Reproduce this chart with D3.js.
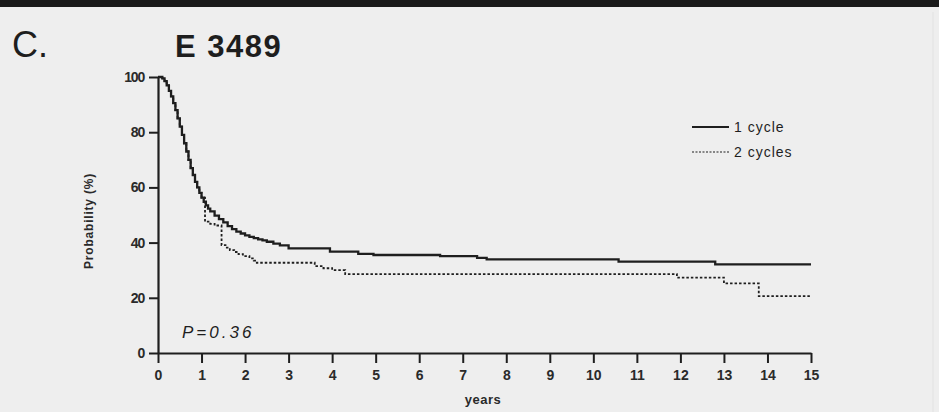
<!DOCTYPE html>
<html>
<head>
<meta charset="utf-8">
<script src="https://cdn.jsdelivr.net/npm/d3@7/dist/d3.min.js"></script>
<style>
  html, body { margin: 0; padding: 0; background: #eeeeee; }
  svg { display: block; font-family: "Liberation Sans", Arial, sans-serif; }
</style>
</head>
<body>
<div id="chart"></div>
<script>
// Kaplan-Meier estimates (years, probability %)
const yearsOne = [0, 0.1, 0.15, 0.2, 0.25, 0.3, 0.35, 0.4, 0.45, 0.5, 0.55, 0.6, 0.65, 0.7, 0.75, 0.8, 0.85, 0.9, 0.95, 1.0, 1.05, 1.1, 1.15, 1.2, 1.3, 1.4, 1.5, 1.6, 1.7, 1.8, 1.9, 2.0, 2.1, 2.2, 2.3, 2.4, 2.5, 2.65, 2.8, 3.0, 3.95, 4.6, 4.95, 6.48, 7.33, 7.55, 10.58, 12.8, 15];
const survOne  = [100, 99.5, 98.5, 97, 95, 93, 90.5, 88, 85, 82, 79, 76, 73, 70, 67, 64.5, 62, 60, 58, 56.3, 54.8, 53.5, 52.3, 51.3, 49.8, 48.5, 47.3, 46, 44.9, 44, 43.3, 42.6, 42.1, 41.6, 41.2, 40.8, 40.3, 39.6, 39, 37.9, 36.7, 35.9, 35.5, 35.1, 34.5, 33.9, 33.1, 32.1, 32.1];

const yearsTwo = [0, 0.1, 0.15, 0.2, 0.25, 0.3, 0.35, 0.4, 0.45, 0.5, 0.55, 0.6, 0.65, 0.7, 0.75, 0.8, 0.85, 0.9, 0.95, 1.0, 1.08, 1.2, 1.3, 1.46, 1.55, 1.65, 1.75, 1.85, 1.95, 2.1, 2.2, 2.27, 3.42, 3.6, 3.8, 4.0, 4.3, 11.92, 13.0, 13.8, 15];
const survTwo  = [100, 99.5, 98.5, 97, 95, 93, 90.5, 88, 85, 82, 79, 76, 73, 70, 67, 64.5, 62, 60, 58, 56.3, 47.6, 46.8, 46.2, 39.1, 38.2, 37.3, 36.6, 35.8, 35.1, 34.3, 33.5, 32.7, 32.7, 31.5, 30.7, 30, 28.6, 27.3, 25.2, 20.6, 20.6];

const seriesNames = ["1 cycle", "2 cycles"];
const yTicks = [0, 20, 40, 60, 80, 100];
const xTicks = d3.range(0, 16);
const pValue = "P=0.36";

const W = 939, H = 412;
const ink = "#1e1e1e";

const svg = d3.select("#chart").append("svg")
    .attr("width", W)
    .attr("height", H);

svg.append("rect").attr("width", W).attr("height", H).attr("fill", "#eeeeee");
// heavy rule across the top of the panel
svg.append("rect").attr("x", 0).attr("y", 0).attr("width", W).attr("height", 7).attr("fill", "#1a1a1a");
svg.append("line").attr("x1", 933).attr("x2", 933).attr("y1", 12).attr("y2", H)
    .attr("stroke", "#e2e2e2").attr("stroke-width", 1);

const x = d3.scaleLinear().domain([0, 15]).range([158, 811]);
const y = d3.scaleLinear().domain([0, 100]).range([353, 77]);

// panel letter and trial name
svg.append("text").attr("x", 12).attr("y", 57)
    .attr("font-size", 36).attr("fill", ink).text("C.");
svg.append("text").attr("x", 175).attr("y", 57)
    .attr("font-size", 31).attr("font-weight", "bold").attr("letter-spacing", 1.5)
    .attr("fill", ink).text("E 3489");

// axes
const yAxis = svg.append("g")
    .attr("transform", `translate(${x(0)},0)`)
    .call(d3.axisLeft(y).tickValues(yTicks).tickSize(9).tickSizeOuter(0).tickPadding(5));
const xAxis = svg.append("g")
    .attr("transform", `translate(0,${y(0)})`)
    .call(d3.axisBottom(x).tickValues(xTicks).tickSize(10).tickSizeOuter(0).tickPadding(7));

[yAxis, xAxis].forEach(g => {
    g.select(".domain").attr("stroke", ink).attr("stroke-width", 2.2);
    g.selectAll(".tick line").attr("stroke", ink).attr("stroke-width", 2);
    g.selectAll(".tick text")
        .attr("fill", "#2a2a2a")
        .attr("font-family", '"Liberation Sans", Arial, sans-serif')
        .attr("font-weight", "bold")
        .attr("font-size", 14);
});
yAxis.selectAll(".tick text").attr("font-size", 14).attr("letter-spacing", -1.2);

// axis titles
svg.append("text")
    .attr("transform", `translate(93,${(y(0) + y(100)) / 2 + 6}) rotate(-90)`)
    .attr("text-anchor", "middle")
    .attr("font-size", 12)
    .attr("font-weight", "bold")
    .attr("font-family", '"Liberation Sans Narrow", "Liberation Sans", sans-serif')
    .attr("letter-spacing", 0.8)
    .attr("fill", "#2a2a2a")
    .text("Probability (%)");
svg.append("text")
    .attr("x", 483).attr("y", 404)
    .attr("text-anchor", "middle")
    .attr("font-size", 13)
    .attr("font-weight", "bold")
    .attr("letter-spacing", 0.5)
    .attr("fill", "#2a2a2a")
    .text("years");

// survival curves
const line = d3.line()
    .x(d => x(d[0]))
    .y(d => y(d[1]))
    .curve(d3.curveStepAfter);

svg.append("path")
    .datum(d3.zip(yearsTwo, survTwo))
    .attr("d", line)
    .attr("fill", "none")
    .attr("stroke", ink)
    .attr("stroke-width", 1.8)
    .attr("stroke-dasharray", "2.5,2");

svg.append("path")
    .datum(d3.zip(yearsOne, survOne))
    .attr("d", line)
    .attr("fill", "none")
    .attr("stroke", ink)
    .attr("stroke-width", 2.3);

// legend
const legend = svg.append("g").attr("transform", "translate(692,127)");
seriesNames.forEach((name, i) => {
    const row = legend.append("g").attr("transform", `translate(0,${i * 25})`);
    row.append("line")
        .attr("x1", 0).attr("x2", 37)
        .attr("stroke", ink)
        .attr("stroke-width", i === 0 ? 2 : 1.2)
        .attr("stroke-dasharray", i === 0 ? null : "2,1.5");
    row.append("text")
        .attr("x", 42).attr("y", 5)
        .attr("font-size", 14)
        .attr("letter-spacing", 1)
        .attr("fill", ink)
        .text(name);
});

// log-rank p value
svg.append("text")
    .attr("x", 182).attr("y", 338)
    .attr("font-size", 17)
    .attr("font-style", "italic")
    .attr("letter-spacing", 3)
    .attr("fill", ink)
    .text(pValue);
</script>
</body>
</html>
